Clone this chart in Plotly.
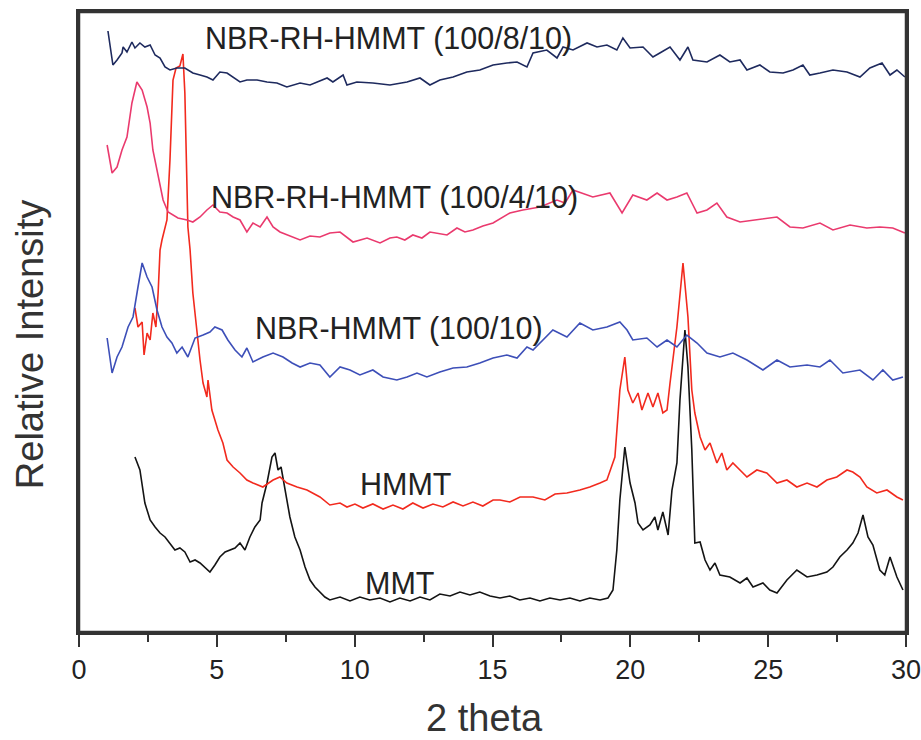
import plotly.graph_objects as go

# ---------------- data (2 theta in degrees, relative intensity in arbitrary units) ----------------
mmt_x = [2.03, 2.21, 2.39, 2.58, 2.76, 2.94, 3.12, 3.30, 3.48, 3.66, 3.84, 4.03, 4.21, 4.39, 4.57, 4.75,
         4.93, 5.11, 5.30, 5.48, 5.66, 5.84, 6.02, 6.20, 6.38, 6.57, 6.64, 6.82, 7.00, 7.11, 7.22, 7.33,
         7.47, 7.65, 7.83, 8.02, 8.20, 8.38, 8.56, 8.74, 8.92, 9.10, 9.47, 9.83, 10.19, 10.55, 10.92,
         11.28, 11.64, 12.01, 12.37, 12.73, 13.09, 13.46, 13.82, 14.18, 14.54, 14.91, 15.27, 15.63,
         15.99, 16.36, 16.72, 17.08, 17.45, 17.81, 18.17, 18.53, 18.90, 19.19, 19.37, 19.51, 19.62,
         19.80, 19.99, 20.17, 20.28, 20.46, 20.71, 20.89, 21.00, 21.18, 21.37, 21.51, 21.69, 21.80,
         21.98, 22.09, 22.23, 22.34, 22.53, 22.71, 22.89, 23.07, 23.25, 23.61, 23.98, 24.23, 24.45,
         24.81, 25.06, 25.32, 25.68, 26.04, 26.41, 26.77, 27.13, 27.35, 27.60, 27.86, 28.07, 28.26,
         28.44, 28.62, 28.80, 29.05, 29.23, 29.42, 29.67, 29.89]
mmt_y = [175, 162, 129, 112, 105, 99, 95, 89, 82, 84, 80, 70, 72, 69, 64, 60,
         67, 75, 80, 82, 84, 89, 82, 95, 105, 112, 129, 149, 175, 179, 162, 165,
         142, 115, 95, 82, 65, 52, 45, 40, 35, 32, 35, 31, 35, 32, 34,
         30, 34, 31, 35, 32, 38, 36, 40, 37, 40, 36, 34, 36,
         32, 34, 31, 34, 32, 34, 31, 34, 32, 34, 42, 82, 132,
         185, 149, 129, 109, 102, 107, 115, 102, 120, 97, 142, 169, 232,
         302, 265, 182, 89, 90, 72, 62, 69, 57, 55, 49, 54, 45,
         49, 42, 39, 52, 62, 55, 57, 60, 65, 75, 82, 89, 99,
         117, 95, 87, 62, 57, 75, 55, 42]

hmmt_x = [2.03, 2.14, 2.29, 2.36, 2.47, 2.58, 2.68, 2.79, 2.87, 2.94, 3.01, 3.19, 3.30, 3.41, 3.52,
          3.66, 3.77, 3.84, 3.95, 4.03, 4.13, 4.28, 4.39, 4.50, 4.64, 4.68, 4.82, 4.93, 5.04, 5.22,
          5.37, 5.59, 5.84, 6.09, 6.31, 6.67, 7.04, 7.29, 7.54, 7.91, 8.27, 8.74, 9.10, 9.47, 9.72,
          10.01, 10.30, 10.66, 11.03, 11.39, 11.75, 12.11, 12.48, 12.84, 13.20, 13.57, 13.93, 14.29,
          14.65, 15.02, 15.27, 15.63, 16.00, 16.47, 16.90, 17.27, 17.70, 18.17, 18.53, 18.90, 19.15,
          19.44, 19.62, 19.80, 19.91, 20.09, 20.28, 20.42, 20.64, 20.82, 21.00, 21.18, 21.33, 21.44,
          21.69, 21.91, 22.09, 22.23, 22.34, 22.53, 22.71, 22.89, 23.14, 23.32, 23.50, 23.72, 23.98,
          24.23, 24.59, 24.95, 25.32, 25.68, 26.04, 26.41, 26.77, 27.13, 27.49, 27.86, 28.07, 28.33,
          28.58, 28.94, 29.31, 29.67, 29.89]
hmmt_y = [324, 305, 310, 277, 299, 292, 319, 305, 339, 382, 392, 412, 472, 552, 564,
          566, 578, 539, 405, 382, 339, 299, 272, 249, 235, 252, 222, 212, 202, 189,
          172, 165, 159, 152, 149, 145, 152, 155, 149, 145, 142, 135, 127, 129, 125,
          128, 124, 128, 123, 127, 123, 129, 124, 128, 125, 130, 126, 130,
          126, 132, 132, 130, 135, 135, 132, 138, 139, 142, 145, 149, 152,
          175, 242, 275, 242, 229, 239, 222, 239, 225, 239, 219, 222, 249,
          305, 369, 315, 242, 219, 195, 182, 189, 169, 179, 162, 169, 162,
          155, 162, 159, 149, 152, 145, 149, 145, 152, 155, 162, 160, 155,
          145, 139, 142, 135, 132]

nbr_hmmt_x = [1.02, 1.20, 1.38, 1.56, 1.78, 1.96, 2.14, 2.29, 2.47, 2.65, 2.83, 3.01, 3.19, 3.37, 3.55,
              3.74, 3.95, 4.21, 4.50, 4.75, 4.93, 5.19, 5.40, 5.66, 5.91, 6.09, 6.31, 6.67, 7.04, 7.40,
              7.73, 8.02, 8.38, 8.74, 9.10, 9.47, 9.83, 10.19, 10.66, 11.03, 11.53, 11.90, 12.26, 12.62,
              13.09, 13.57, 14.07, 14.54, 15.02, 15.52, 15.89, 16.25, 16.47, 16.83, 17.19, 17.70, 18.17,
              18.64, 19.15, 19.62, 19.88, 20.09, 20.60, 20.97, 21.33, 21.69, 22.05, 22.42, 22.78, 23.25,
              23.72, 24.23, 24.81, 25.32, 25.79, 26.41, 26.88, 27.24, 27.71, 28.33, 28.80, 29.16, 29.52,
              29.89]
nbr_hmmt_y = [294, 259, 275, 285, 305, 315, 345, 369, 355, 345, 322, 305, 295, 289, 279,
              285, 275, 294, 297, 300, 305, 302, 292, 282, 275, 284, 270, 275, 279, 275,
              269, 265, 269, 267, 255, 265, 262, 257, 262, 255, 252, 255, 259, 255,
              260, 264, 265, 269, 274, 277, 274, 285, 282, 292, 302, 295, 309,
              302, 305, 310, 302, 292, 294, 285, 292, 285, 297, 289, 279, 275,
              279, 272, 262, 272, 265, 267, 265, 272, 259, 262, 252, 262, 252,
              255]

rh4_x = [1.02, 1.20, 1.38, 1.56, 1.74, 1.92, 2.10, 2.29, 2.47, 2.58, 2.68, 2.87, 3.05, 3.23, 3.41,
         3.59, 3.92, 4.13, 4.39, 4.64, 4.86, 5.11, 5.37, 5.59, 5.84, 6.09, 6.31, 6.57, 6.82, 7.04,
         7.29, 7.65, 8.02, 8.38, 8.74, 9.10, 9.47, 9.94, 10.45, 10.92, 11.28, 11.53, 11.82, 12.11,
         12.44, 12.73, 13.35, 13.71, 14.00, 14.29, 14.65, 15.02, 15.63, 16.10, 16.72, 17.34, 17.63,
         17.92, 18.64, 19.26, 19.70, 20.09, 20.60, 20.97, 21.33, 21.69, 22.05, 22.42, 22.78, 23.14,
         23.50, 23.98, 24.45, 24.95, 25.32, 25.79, 26.26, 26.88, 27.35, 27.97, 28.58, 29.05, 29.52,
         29.96]
rh4_y = [487, 459, 465, 482, 495, 529, 550, 542, 525, 509, 482, 455, 432, 420, 417,
         414, 412, 410, 415, 422, 427, 420, 419, 415, 412, 400, 409, 405, 415, 405,
         400, 396, 392, 396, 395, 399, 400, 390, 394, 389, 394, 395, 392, 397,
         394, 400, 397, 404, 400, 402, 406, 409, 419, 422, 425, 432, 429,
         442, 435, 439, 419, 437, 432, 439, 432, 435, 439, 419, 422, 429,
         415, 410, 412, 414, 415, 405, 404, 409, 402, 407, 404, 405, 404,
         399]

rh8_x = [1.05, 1.23, 1.38, 1.56, 1.60, 1.74, 1.92, 2.03, 2.21, 2.39, 2.58, 2.76, 2.94, 3.12, 3.30,
         3.55, 3.84, 4.13, 4.39, 4.64, 4.86, 5.11, 5.37, 5.59, 5.84, 6.09, 6.46, 6.82, 7.18, 7.54,
         8.02, 8.38, 9.00, 9.21, 9.58, 9.72, 10.08, 10.66, 11.28, 11.90, 12.37, 12.73, 13.09, 13.57,
         14.07, 14.54, 15.02, 15.52, 15.89, 16.25, 16.47, 16.97, 17.34, 17.56, 17.92, 18.43, 18.79,
         19.15, 19.51, 19.73, 19.99, 20.46, 20.82, 21.07, 21.44, 21.80, 22.09, 22.27, 22.78, 23.25,
         23.61, 23.98, 24.23, 24.70, 25.06, 25.54, 25.90, 26.26, 26.51, 26.88, 27.35, 27.86, 28.33,
         28.69, 29.13, 29.42, 29.67, 29.96]
rh8_y = [601, 567, 572, 579, 585, 580, 590, 584, 589, 585, 587, 577, 574, 565, 562,
         564, 564, 559, 557, 555, 552, 560, 559, 555, 550, 552, 552, 550, 549, 545,
         549, 547, 554, 550, 557, 547, 550, 549, 547, 550, 554, 547, 552, 555,
         560, 562, 567, 569, 570, 565, 579, 582, 574, 585, 582, 589, 585,
         587, 582, 594, 584, 585, 575, 579, 585, 572, 585, 572, 570, 577,
         570, 572, 562, 567, 560, 559, 562, 567, 557, 559, 562, 560, 555,
         564, 569, 557, 562, 555]

x_ticks = [0, 5, 10, 15, 20, 25, 30]
x_minor = [2.5, 7.5, 12.5, 17.5, 22.5, 27.5]

series = [
    ("MMT", mmt_x, mmt_y, "#141414"),
    ("HMMT", hmmt_x, hmmt_y, "#f22a1e"),
    ("NBR-HMMT (100/10)", nbr_hmmt_x, nbr_hmmt_y, "#3d4fb8"),
    ("NBR-RH-HMMT (100/4/10)", rh4_x, rh4_y, "#ea3a6e"),
    ("NBR-RH-HMMT (100/8/10)", rh8_x, rh8_y, "#1e2a5e"),
]

# curve labels: (text, x in degrees, y in intensity units)
label_text = ["NBR-RH-HMMT (100/8/10)", "NBR-RH-HMMT (100/4/10)", "NBR-HMMT (100/10)", "HMMT", "MMT"]
label_x = [11.21, 11.46, 11.61, 11.86, 11.64]
label_y = [594, 435, 304, 148, 49]

FONT = "Liberation Sans, Arial, Helvetica, sans-serif"

fig = go.Figure()
for name, xs, ys, col in series:
    fig.add_trace(go.Scatter(x=xs, y=ys, mode="lines", name=name,
                             line=dict(color=col, width=1.6), showlegend=False))

for t, lx, ly in zip(label_text, label_x, label_y):
    fig.add_annotation(x=lx, y=ly, xref="x", yref="y", text=t, showarrow=False,
                       font=dict(family=FONT, size=30.5, color="#222222"),
                       xanchor="center", yanchor="middle")

fig.add_annotation(x=0.49, y=-0.138, xref="paper", yref="paper", text="2 theta", showarrow=False,
                   font=dict(family=FONT, size=38, color="#333333"), xanchor="center", yanchor="middle")
fig.add_annotation(x=-0.059, y=0.463, xref="paper", yref="paper", text="Relative Intensity",
                   showarrow=False, textangle=-90,
                   font=dict(family=FONT, size=38, color="#333333"), xanchor="center", yanchor="middle")

# frame around the plotting area
fig.add_shape(type="rect", xref="paper", yref="paper", x0=0, x1=1, y0=0, y1=1,
              line=dict(color="#333333", width=2.5), layer="above")

fig.update_xaxes(range=[0, 30], tickvals=x_ticks, ticktext=[str(v) for v in x_ticks],
                 ticks="outside", ticklen=12, tickwidth=2, tickcolor="#333333",
                 minor=dict(tickvals=x_minor, ticks="outside",
                            ticklen=7, tickwidth=2, tickcolor="#333333"),
                 showline=True, linewidth=2.5, linecolor="#333333", mirror=True,
                 showgrid=False, zeroline=False, automargin=False, ticklabeloverflow="allow",
                 tickfont=dict(family=FONT, size=27, color="#222222"))
fig.update_yaxes(range=[0, 620], showticklabels=False, ticks="",
                 showline=True, linewidth=2.5, linecolor="#333333", mirror=True,
                 showgrid=False, zeroline=False, automargin=False)

fig.update_layout(width=921, height=740, plot_bgcolor="white", paper_bgcolor="white",
                  margin=dict(l=79, r=15, t=12, b=108, autoexpand=False), showlegend=False)

fig.write_html("out.html", config={"displayModeBar": False},
               post_script="document.body.style.margin='0';document.body.style.padding='0';"
                           "document.body.style.overflow='hidden';")
